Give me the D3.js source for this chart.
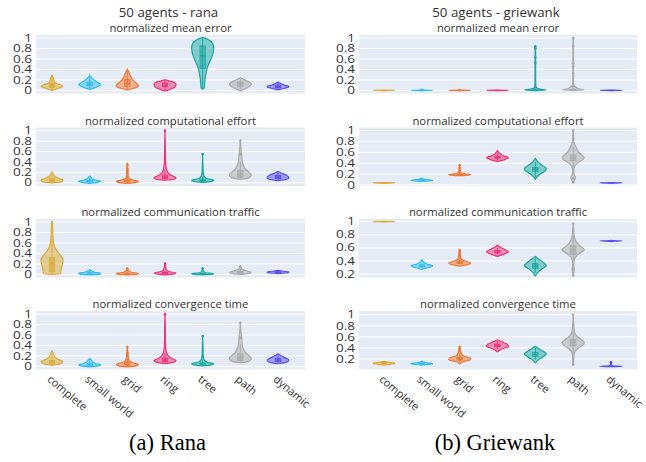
<!DOCTYPE html>
<html>
<head>
<meta charset="utf-8">
<script src="https://cdn.jsdelivr.net/npm/d3@7"></script>
<style>
  body { margin: 0; background: #fff; }
  text { font-family: "Open Sans", sans-serif; fill: #333; }
</style>
</head>
<body>
<svg id="chart" width="646" height="462"></svg>
<script>
const categories = ['complete', 'small world', 'grid', 'ring', 'tree', 'path', 'dynamic'];
const metrics = ['normalized mean error', 'normalized computational effort',
                 'normalized communication traffic', 'normalized convergence time'];
const ticksFull = [0, 0.2, 0.4, 0.6, 0.8, 1];
const ticksHigh = [0.2, 0.4, 0.6, 0.8, 1];

// each violin: shape = [value, relative density], box = [lo, q1, median, q3, hi], pts = outliers
const ranaError = [
  {shape: [[0,0],[0.04,0.6],[0.08,1],[0.11,0.7],[0.14,0.3],[0.17,0.22],[0.22,0.15],[0.27,0.05],[0.29,0]], box: [0,0.06,0.1,0.14,0.27], pts: []},
  {shape: [[0.02,0],[0.06,0.6],[0.11,1],[0.15,0.75],[0.2,0.4],[0.25,0.15],[0.29,0]], box: [0.04,0.09,0.12,0.16,0.27], pts: []},
  {shape: [[0.01,0],[0.04,0.6],[0.09,1],[0.14,0.8],[0.2,0.5],[0.27,0.3],[0.34,0.15],[0.41,0]], box: [0.03,0.08,0.13,0.21,0.38], pts: []},
  {shape: [[-0.01,0],[0.02,0.45],[0.06,0.9],[0.11,1],[0.15,0.85],[0.18,0.4],[0.2,0]], box: [0.01,0.07,0.1,0.14,0.18], pts: []},
  {shape: [[0.02,0],[0.05,0.15],[0.15,0.18],[0.3,0.27],[0.45,0.45],[0.6,0.75],[0.72,0.95],[0.82,1],[0.9,0.9],[0.96,0.6],[1.0,0.2],[1.01,0]], box: [0.03,0.42,0.66,0.85,1.0], pts: []},
  {shape: [[-0.01,0],[0.03,0.4],[0.08,0.85],[0.12,1],[0.16,0.8],[0.2,0.4],[0.24,0]], box: [0.02,0.08,0.12,0.16,0.22], pts: []},
  {shape: [[0.01,0],[0.04,0.6],[0.07,1],[0.1,0.6],[0.13,0.25],[0.16,0]], box: [0.03,0.05,0.07,0.1,0.14], pts: []}
];
const ranaEffort = [
  {shape: [[0,0],[0.02,0.9],[0.05,1],[0.08,0.7],[0.11,0.35],[0.15,0.15],[0.21,0]], box: [0.01,0.03,0.05,0.08,0.16], pts: []},
  {shape: [[-0.01,0],[0.01,0.7],[0.03,1],[0.05,0.6],[0.08,0.2],[0.11,0.12],[0.13,0]], box: [0,0.02,0.03,0.05,0.1], pts: []},
  {shape: [[-0.01,0],[0.01,0.8],[0.03,1],[0.05,0.6],[0.08,0.2],[0.12,0.08],[0.2,0.05],[0.3,0.04],[0.38,0]], box: [0,0.02,0.03,0.07,0.13], pts: [0.18,0.22,0.27,0.35]},
  {shape: [[0.05,0],[0.07,0.8],[0.1,1],[0.14,0.6],[0.2,0.25],[0.3,0.1],[0.45,0.05],[0.7,0.03],[1.0,0]], box: [0.06,0.08,0.11,0.15,0.25], pts: [1.0]},
  {shape: [[0.01,0],[0.03,0.8],[0.05,1],[0.08,0.4],[0.13,0.12],[0.2,0.05],[0.35,0.03],[0.56,0]], box: [0.02,0.03,0.05,0.07,0.12], pts: [0.18,0.55]},
  {shape: [[0.07,0],[0.1,0.8],[0.15,1],[0.2,0.8],[0.27,0.45],[0.35,0.25],[0.45,0.15],[0.55,0.12],[0.65,0.06],[0.83,0]], box: [0.08,0.11,0.16,0.24,0.4], pts: [0.55,0.8]},
  {shape: [[0.04,0],[0.07,0.8],[0.1,1],[0.14,0.8],[0.18,0.4],[0.22,0]], box: [0.06,0.08,0.11,0.14,0.2], pts: []}
];
const ranaTraffic = [
  {shape: [[0,0],[0.01,0.75],[0.05,0.8],[0.12,0.85],[0.2,0.95],[0.28,1],[0.35,0.85],[0.42,0.55],[0.5,0.3],[0.6,0.15],[0.7,0.09],[0.85,0.06],[1.0,0.04],[1.02,0]], box: [0.01,0.06,0.2,0.32,0.65], pts: []},
  {shape: [[-0.01,0],[0.005,0.9],[0.02,1],[0.04,0.45],[0.06,0.25],[0.09,0]], box: [0,0.005,0.01,0.03,0.07], pts: []},
  {shape: [[-0.01,0],[0.005,0.9],[0.02,1],[0.04,0.35],[0.07,0.1],[0.12,0]], box: [0,0.005,0.01,0.02,0.05], pts: [0.08,0.11]},
  {shape: [[-0.01,0],[0.01,0.8],[0.025,1],[0.05,0.45],[0.08,0.15],[0.15,0.05],[0.22,0]], box: [0,0.01,0.02,0.04,0.07], pts: [0.2]},
  {shape: [[-0.01,0],[0.005,0.9],[0.015,1],[0.03,0.3],[0.06,0.08],[0.12,0]], box: [0,0.005,0.01,0.02,0.04], pts: [0.11]},
  {shape: [[0,0],[0.02,0.8],[0.04,1],[0.07,0.5],[0.1,0.15],[0.17,0]], box: [0.01,0.02,0.04,0.06,0.1], pts: [0.14]},
  {shape: [[0.015,0],[0.03,0.9],[0.045,1],[0.06,0.5],[0.075,0]], box: [0.02,0.03,0.04,0.05,0.07], pts: []}
];
const ranaTime = [
  {shape: [[0.02,0],[0.05,0.8],[0.09,1],[0.12,0.7],[0.16,0.35],[0.22,0.15],[0.3,0]], box: [0.03,0.05,0.08,0.11,0.2], pts: []},
  {shape: [[-0.01,0],[0.01,0.8],[0.03,1],[0.05,0.6],[0.08,0.3],[0.12,0.15],[0.15,0]], box: [0,0.01,0.03,0.05,0.1], pts: []},
  {shape: [[-0.01,0],[0.01,0.8],[0.04,1],[0.07,0.5],[0.1,0.2],[0.15,0.1],[0.25,0.05],[0.39,0]], box: [0,0.02,0.04,0.08,0.15], pts: [0.2,0.25,0.37]},
  {shape: [[0.05,0],[0.08,0.8],[0.11,1],[0.15,0.6],[0.2,0.3],[0.3,0.1],[0.5,0.04],[0.75,0.03],[1.0,0]], box: [0.06,0.09,0.12,0.16,0.25], pts: [1.0]},
  {shape: [[0.01,0],[0.03,0.8],[0.05,1],[0.08,0.4],[0.13,0.12],[0.2,0.05],[0.4,0.03],[0.59,0]], box: [0.02,0.03,0.05,0.07,0.13], pts: [0.18,0.58]},
  {shape: [[0.07,0],[0.1,0.8],[0.15,1],[0.2,0.8],[0.27,0.45],[0.35,0.25],[0.45,0.15],[0.55,0.13],[0.65,0.06],[0.85,0]], box: [0.09,0.11,0.16,0.24,0.42], pts: [0.55,0.83]},
  {shape: [[0.05,0],[0.08,0.8],[0.12,1],[0.15,0.8],[0.19,0.4],[0.24,0]], box: [0.07,0.09,0.12,0.15,0.21], pts: []}
];

const grieError = [
  {shape: [[-0.004,0],[0,1],[0.004,0]], box: [0,0,0,0,0], pts: []},
  {shape: [[-0.004,0],[0,1],[0.004,0]], box: [0,0,0,0,0], pts: [0.01]},
  {shape: [[-0.004,0],[0,1],[0.004,0]], box: [0,0,0,0,0], pts: [0.005]},
  {shape: [[-0.004,0],[0,1],[0.004,0]], box: [0,0,0,0,0], pts: []},
  {shape: [[-0.005,0],[0.005,1],[0.02,0.6],[0.04,0.15],[0.07,0.05],[0.2,0.03],[0.5,0.03],[0.85,0.02],[0.86,0]], box: [0,0,0.005,0.01,0.03], pts: [0.06,0.53,0.63,0.8,0.84]},
  {shape: [[-0.005,0],[0.01,1],[0.03,0.5],[0.07,0.2],[0.1,0.05],[0.3,0.03],[0.6,0.03],[1.0,0.02],[1.01,0]], box: [0,0.003,0.01,0.02,0.05], pts: [0.08,0.33,0.45,0.52,0.85,1.0]},
  {shape: [[-0.004,0],[0,1],[0.004,0]], box: [0,0,0,0,0], pts: []}
];
const grieEffort = [
  {shape: [[0.033,0],[0.037,1],[0.041,0]], box: [0.037,0.037,0.037,0.037,0.037], pts: []},
  {shape: [[0.065,0],[0.078,0.8],[0.087,1],[0.1,0.35],[0.12,0]], box: [0.075,0.08,0.087,0.093,0.105], pts: []},
  {shape: [[0.17,0],[0.18,0.8],[0.19,1],[0.2,0.6],[0.22,0.15],[0.26,0.06],[0.32,0.04],[0.38,0]], box: [0.18,0.185,0.19,0.2,0.23], pts: [0.25,0.3,0.36]},
  {shape: [[0.43,0],[0.47,0.7],[0.5,1],[0.53,0.6],[0.57,0.25],[0.63,0]], box: [0.45,0.49,0.505,0.525,0.58], pts: []},
  {shape: [[0.1,0],[0.15,0.15],[0.2,0.45],[0.26,0.9],[0.3,1],[0.35,0.7],[0.41,0.3],[0.46,0.1],[0.49,0]], box: [0.14,0.25,0.29,0.32,0.42], pts: []},
  {shape: [[0.03,0],[0.06,0.06],[0.1,0.15],[0.14,0.22],[0.18,0.08],[0.25,0.05],[0.32,0.1],[0.4,0.4],[0.46,0.85],[0.5,1],[0.55,0.8],[0.6,0.5],[0.66,0.35],[0.72,0.2],[0.8,0.06],[0.9,0.04],[1.02,0]], box: [0.3,0.45,0.5,0.55,0.7], pts: [0.05,0.12,0.85,1.0]},
  {shape: [[0.033,0],[0.037,1],[0.041,0]], box: [0.037,0.037,0.037,0.037,0.037], pts: []}
];
const grieTraffic = [
  {shape: [[0.996,0],[1.0,1],[1.004,0]], box: [1,1,1,1,1], pts: []},
  {shape: [[0.27,0],[0.3,0.6],[0.325,1],[0.35,0.5],[0.38,0.2],[0.42,0]], box: [0.29,0.31,0.325,0.34,0.37], pts: []},
  {shape: [[0.32,0],[0.34,0.6],[0.37,1],[0.4,0.5],[0.43,0.15],[0.48,0.08],[0.55,0.05],[0.58,0]], box: [0.34,0.36,0.375,0.4,0.45], pts: [0.48,0.52,0.56]},
  {shape: [[0.47,0],[0.5,0.55],[0.54,1],[0.58,0.6],[0.61,0.25],[0.64,0]], box: [0.5,0.52,0.54,0.56,0.6], pts: []},
  {shape: [[0.17,0],[0.22,0.2],[0.28,0.6],[0.33,1],[0.38,0.7],[0.43,0.3],[0.47,0]], box: [0.22,0.29,0.32,0.36,0.44], pts: []},
  {shape: [[0.18,0],[0.22,0.05],[0.28,0.1],[0.33,0.05],[0.42,0.1],[0.5,0.45],[0.57,1],[0.63,0.6],[0.7,0.25],[0.8,0.08],[0.9,0.04],[0.97,0]], box: [0.4,0.5,0.57,0.63,0.8], pts: [0.18,0.28,0.97]},
  {shape: [[0.701,0],[0.705,1],[0.709,0]], box: [0.705,0.705,0.705,0.705,0.705], pts: [0.705]}
];
const grieTime = [
  {shape: [[0.09,0],[0.11,0.8],[0.125,1],[0.14,0.5],[0.16,0]], box: [0.1,0.115,0.125,0.135,0.15], pts: []},
  {shape: [[0.09,0],[0.105,0.8],[0.115,1],[0.13,0.5],[0.16,0]], box: [0.1,0.11,0.115,0.125,0.14], pts: []},
  {shape: [[0.11,0],[0.15,0.3],[0.19,1],[0.22,0.9],[0.26,0.3],[0.32,0.12],[0.38,0.06],[0.43,0]], box: [0.14,0.18,0.2,0.23,0.3], pts: [0.34,0.38,0.42]},
  {shape: [[0.33,0],[0.38,0.4],[0.43,1],[0.47,0.85],[0.51,0.4],[0.55,0]], box: [0.38,0.42,0.44,0.47,0.52], pts: []},
  {shape: [[0.13,0],[0.18,0.25],[0.24,0.7],[0.29,1],[0.33,0.8],[0.38,0.35],[0.43,0]], box: [0.18,0.25,0.28,0.32,0.4], pts: []},
  {shape: [[0.09,0],[0.15,0.04],[0.25,0.06],[0.33,0.15],[0.4,0.5],[0.47,0.95],[0.5,1],[0.55,0.75],[0.62,0.3],[0.7,0.1],[0.85,0.04],[1.0,0]], box: [0.3,0.44,0.5,0.56,0.7], pts: [0.1,1.0]},
  {shape: [[0.062,0],[0.066,1],[0.075,0.1],[0.1,0.05],[0.14,0]], box: [0.066,0.066,0.067,0.07,0.08], pts: [0.14]}
];

const colors = ['#DDAA33', '#33BBEE', '#EE7733', '#EE3377', '#1AA7A0', '#AAAAAA', '#5B4DF0'];

const svg = d3.select('#chart');
svg.append('rect').attr('width', 646).attr('height', 462).attr('fill', '#fff');

const rowTops = [35, 127.5, 219, 311];
const rowH = 58.5;

const panels = [
  {title: '50 agents - rana', caption: '(a) Rana', bg: [36, 305], centers: [52, 278],
   rows: [ranaError, ranaEffort, ranaTraffic, ranaTime],
   domains: [[-0.06, 1.06], [-0.06, 1.06], [-0.06, 1.06], [-0.06, 1.06]],
   ticks: [ticksFull, ticksFull, ticksFull, ticksFull]},
  {title: '50 agents - griewank', caption: '(b) Griewank', bg: [359, 637], centers: [384, 611],
   rows: [grieError, grieEffort, grieTraffic, grieTime],
   domains: [[-0.06, 1.06], [-0.02, 1.055], [0.148, 1.04], [0.01, 1.07]],
   ticks: [ticksFull, ticksFull, ticksHigh, ticksHigh]}
];

const halfW = d3.scaleLinear().domain([0, 1]).range([0, 11]);
const fmt = d3.format('~g');

panels.forEach(p => {
  const x = d3.scalePoint().domain(categories).range(p.centers);
  const midX = (p.bg[0] + p.bg[1]) / 2;

  svg.append('text').attr('x', midX - 2).attr('y', 17)
    .attr('text-anchor', 'middle').style('font-size', '13.3px').text(p.title);

  p.rows.forEach((rowData, r) => {
    const top = rowTops[r];
    const y = d3.scaleLinear().domain(p.domains[r]).range([top + rowH, top]);
    const g = svg.append('g');

    g.append('rect').attr('x', p.bg[0]).attr('y', top)
      .attr('width', p.bg[1] - p.bg[0]).attr('height', rowH).attr('fill', '#e5ecf6');

    svg.append('text').attr('x', midX).attr('y', top - 2.7)
      .attr('text-anchor', 'middle').style('font-size', '11.3px').text(metrics[r]);

    // y tick labels, squashed vertically like the stretched original figure
    g.selectAll('text.ytick').data(p.ticks[r]).join('text')
      .attr('class', 'ytick')
      .attr('transform', d => `translate(${p.bg[0] - 4},${y(d)}) scale(1,0.74)`)
      .attr('dy', '0.36em').attr('text-anchor', 'end')
      .style('font-size', '13.5px').text(d => fmt(d));

    g.selectAll('line.grid').data(p.ticks[r]).join('line')
      .attr('x1', p.bg[0]).attr('x2', p.bg[1])
      .attr('y1', d => y(d)).attr('y2', d => y(d))
      .attr('stroke', '#fff').attr('stroke-width', 1);

    rowData.forEach((v, i) => {
      const cx = x(categories[i]);
      const c = colors[i];
      const area = d3.area().curve(d3.curveMonotoneY)
        .y(d => y(d[0]))
        .x0(d => cx - halfW(d[1]))
        .x1(d => cx + halfW(d[1]));
      g.append('path').attr('d', area(v.shape))
        .attr('fill', c).attr('fill-opacity', 0.5)
        .attr('stroke', c).attr('stroke-width', 1.2).attr('stroke-linejoin', 'round');

      const [lo, q1, med, q3, hi] = v.box;
      g.append('line').attr('x1', cx).attr('x2', cx)
        .attr('y1', y(lo)).attr('y2', y(hi))
        .attr('stroke', c).attr('stroke-width', 1);
      g.append('rect').attr('x', cx - 2.7).attr('width', 5.4)
        .attr('y', y(q3)).attr('height', Math.max(0.01, y(q1) - y(q3)))
        .attr('fill', c).attr('fill-opacity', 0.55)
        .attr('stroke', c).attr('stroke-width', 0.8);
      g.append('line').attr('x1', cx - 2.7).attr('x2', cx + 2.7)
        .attr('y1', y(med)).attr('y2', y(med))
        .attr('stroke', c).attr('stroke-width', 1);

      g.selectAll(null).data(v.pts).join('circle')
        .attr('cx', cx).attr('cy', d => y(d)).attr('r', 1.3)
        .attr('fill', c);
    });

    if (r === 3) {
      categories.forEach(cat => {
        svg.append('text')
          .attr('transform', `translate(${x(cat) - 3},${top + rowH + 8}) rotate(40)`)
          .attr('dy', '0.35em')
          .style('font-size', '11px').text(cat);
      });
    }
  });

  svg.append('text').attr('x', midX - 3).attr('y', 450)
    .attr('text-anchor', 'middle')
    .style('font-family', '"Liberation Serif", "Times New Roman", serif')
    .style('font-size', '22.5px').style('fill', '#000').text(p.caption);
});
</script>
</body>
</html>
